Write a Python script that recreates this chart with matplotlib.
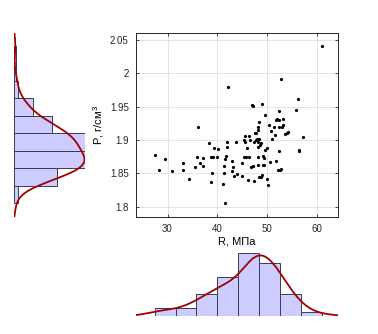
import numpy as np
import matplotlib
matplotlib.use("Agg")
import matplotlib.pyplot as plt

plt.rcParams["font.family"] = "Liberation Sans"
plt.rcParams["mathtext.fontset"] = "custom"
plt.rcParams["mathtext.rm"] = "Liberation Sans"

# strength R (MPa) vs density P (g/cm3)
R = [27.4, 28.2, 29.5, 30.9, 33.1, 33.1, 34.3, 35.5, 36.0, 36.2,
     36.6, 37.2, 37.2, 38.4, 38.7, 38.9, 38.8, 39.1, 39.4, 40.0,
     40.1, 41.3, 41.3, 41.2, 41.5, 41.8, 41.9, 41.9, 41.5, 42.1,
     43.0, 43.1, 43.0, 43.4, 43.9, 43.8, 44.9, 44.9, 45.3, 45.4,
     45.5, 45.5, 45.9, 45.8, 46.1, 46.3, 46.5, 46.4, 46.7, 46.9,
     47.1, 47.1, 47.3, 47.6, 47.5, 47.9, 47.9, 48.0, 48.3, 48.2,
     48.2, 48.3, 48.4, 48.3, 48.5, 48.6, 48.8, 48.3, 48.4, 48.8,
     49.0, 49.1, 49.2, 49.2, 49.4, 49.6, 49.5, 49.6, 50.0, 50.0,
     50.3, 50.4, 50.6, 50.8, 51.0, 51.4, 51.6, 51.8, 51.9, 52.1,
     52.2, 52.4, 52.5, 52.4, 52.5, 52.6, 52.9, 52.9, 53.1, 53.3,
     53.3, 53.6, 54.0, 54.2, 55.8, 56.3, 56.4, 56.5, 57.2, 61.1]
P = [1.878, 1.855, 1.871, 1.853, 1.865, 1.855, 1.842, 1.859, 1.875, 1.919,
     1.865, 1.861, 1.873, 1.895, 1.875, 1.851, 1.837, 1.875, 1.888, 1.875,
     1.886, 1.861, 1.851, 1.834, 1.805, 1.876, 1.897, 1.890, 1.871, 1.979,
     1.868, 1.860, 1.853, 1.846, 1.849, 1.897, 1.846, 1.865, 1.875, 1.900,
     1.906, 1.897, 1.888, 1.875, 1.840, 1.906, 1.900, 1.874, 1.860, 1.952,
     1.951, 1.861, 1.897, 1.911, 1.839, 1.900, 1.911, 1.902, 1.915, 1.897,
     1.875, 1.890, 1.927, 1.920, 1.901, 1.893, 1.896, 1.863, 1.845, 1.845,
     1.847, 1.954, 1.876, 1.863, 1.873, 1.885, 1.863, 1.938, 1.888, 1.842,
     1.832, 1.922, 1.867, 1.914, 1.902, 1.919, 1.907, 1.930, 1.868, 1.932,
     1.855, 1.943, 1.930, 1.920, 1.883, 1.855, 1.856, 1.992, 1.920, 1.932,
     1.922, 1.909, 1.910, 1.912, 1.945, 1.961, 1.885, 1.883, 1.904, 2.041]

# marginal histogram counts
R_counts = [4, 4, 11, 19, 31, 26, 11, 2]
P_counts = [2, 18, 30, 30, 16, 8, 2, 1, 1]

x_ticks = [30, 40, 50, 60]
y_ticks = [1.8, 1.85, 1.9, 1.95, 2.0, 2.05]
y_ticklabels = ["1.8", "1.85", "1.9", "1.95", "2", "2.05"]

xlim = (23.6, 64.3)
ylim = (1.7845, 2.0605)

bar_face = "#ccccff"
bar_edge = "#3c3c50"
curve_col = "#a00000"


def ksdensity(vals, grid):
    # gaussian kernel, normal-reference bandwidth
    vals = np.asarray(vals, dtype=float)
    n = len(vals)
    bw = vals.std(ddof=1) * (4.0 / (3.0 * n)) ** 0.2
    z = (grid[:, None] - vals[None, :]) / bw
    return np.exp(-0.5 * z ** 2).sum(axis=1) / (n * bw * np.sqrt(2 * np.pi))


W, H = 378, 334
fig = plt.figure(figsize=(W / 100, H / 100), dpi=100)

# main scatter
ax = fig.add_axes([135.7 / W, 1 - 217 / H, 202.3 / W, 184 / H])
ax.plot(R, P, "o", color="black", ms=2.3, mec="none")
ax.set_xlim(xlim)
ax.set_ylim(ylim)
ax.set_xticks(x_ticks)
ax.set_yticks(y_ticks)
ax.set_yticklabels(y_ticklabels)
ax.grid(True, color="#dedede", lw=0.6)
ax.set_axisbelow(True)
ax.tick_params(direction="in", length=2.5, width=0.6, labelsize=7,
               top=True, right=True, pad=5, colors="#262626")
for s in ax.spines.values():
    s.set_color("#262626")
    s.set_linewidth(0.7)
ax.set_xlabel("R, МПа", fontsize=8, labelpad=2)
ax.set_ylabel("P, г/см$^3$", fontsize=8, labelpad=3)

# left histogram of P
axl = fig.add_axes([13.7 / W, 1 - 217 / H, 71.6 / W, 184 / H], sharey=ax)
p_edges = np.linspace(min(P), max(P), len(P_counts) + 1)
axl.barh(p_edges[:-1], P_counts, height=np.diff(p_edges), align="edge",
         color=bar_face, edgecolor=bar_edge, lw=0.7)
gy = np.linspace(ylim[0], ylim[1], 300)
axl.plot(ksdensity(P, gy) * sum(P_counts) * np.diff(p_edges)[0], gy,
         color=curve_col, lw=1.3)
axl.set_xlim(0, max(P_counts))
axl.axis("off")

# bottom histogram of R
axb = fig.add_axes([135.7 / W, 1 - 316 / H, 202.3 / W, 63.3 / H], sharex=ax)
r_edges = np.linspace(min(R), max(R), len(R_counts) + 1)
axb.bar(r_edges[:-1], R_counts, width=np.diff(r_edges), align="edge",
        color=bar_face, edgecolor=bar_edge, lw=0.7)
gx = np.linspace(xlim[0], xlim[1], 300)
axb.plot(gx, ksdensity(R, gx) * sum(R_counts) * np.diff(r_edges)[0],
         color=curve_col, lw=1.3)
axb.set_ylim(0, max(R_counts))
axb.axis("off")

fig.savefig("out.png", dpi=100)
